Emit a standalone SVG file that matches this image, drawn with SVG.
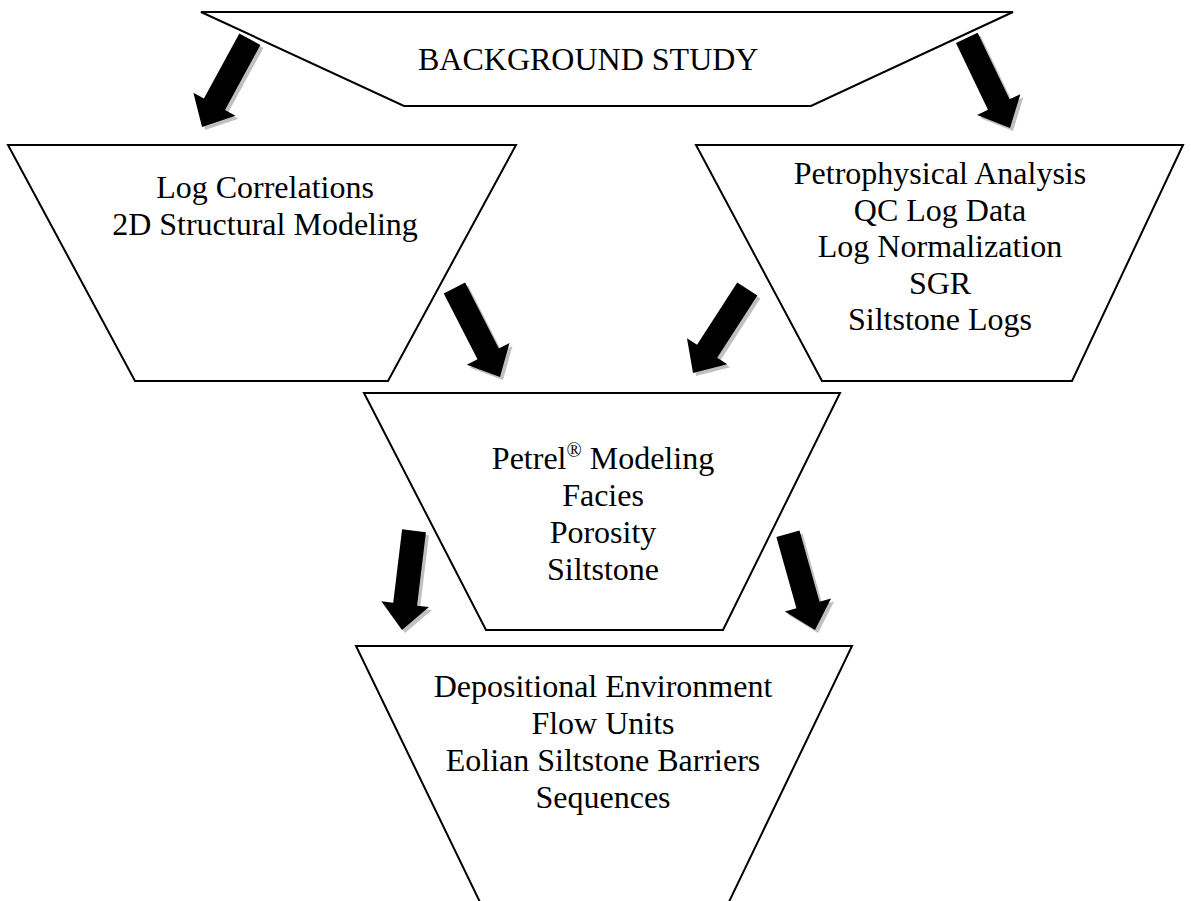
<svg xmlns="http://www.w3.org/2000/svg" width="1191" height="901" viewBox="0 0 1191 901">
<style>
.shape{fill:#fff;stroke:#000;stroke-width:2;stroke-linejoin:miter}
.t{font-family:"Liberation Serif","Times New Roman",serif;font-size:32px;fill:#000;text-anchor:middle}
.arr{fill:#000}
.sh{fill:#c0c0c0}
</style>
<defs>
<path id="a" d="M0,0 L-26,-24 L-26,-12 L-100,-12 L-100,12 L-26,12 L-26,24 Z"/>
</defs>
<rect width="1191" height="901" fill="#fff"/>
<g id="connectors">
<use href="#a" class="sh" transform="translate(205,130) rotate(118.6)"/>
<use href="#a" class="arr" transform="translate(202,127) rotate(118.6)"/>
<use href="#a" class="sh" transform="translate(1013,131) rotate(64.4)"/>
<use href="#a" class="arr" transform="translate(1010,128) rotate(64.4)"/>
<use href="#a" class="sh" transform="translate(503,380) rotate(62.9)"/>
<use href="#a" class="arr" transform="translate(500,377) rotate(62.9)"/>
<use href="#a" class="sh" transform="translate(696,376) rotate(122.9)"/>
<use href="#a" class="arr" transform="translate(693,373) rotate(122.9)"/>
<use href="#a" class="sh" transform="translate(405,633) rotate(96.9)"/>
<use href="#a" class="arr" transform="translate(402,630) rotate(96.9)"/>
<use href="#a" class="sh" transform="translate(818,633) rotate(74.3)"/>
<use href="#a" class="arr" transform="translate(815,630) rotate(74.3)"/>
</g>
<g id="background">
<polygon class="shape" points="201,12 1013,12 811,106 404,106"/>
<text class="t" x="418" y="70" style="text-anchor:start">BACKGROUND STUDY</text>
</g>
<g id="log-correlations">
<polygon class="shape" points="8,145 516,145 388,381 135,381"/>
<text class="t" x="265" y="198">Log Correlations</text>
<text class="t" x="265" y="235">2D Structural Modeling</text>
</g>
<g id="petrophysical">
<polygon class="shape" points="696,145 1183,145 1072,381 822,381"/>
<text class="t" x="940" y="184">Petrophysical Analysis</text>
<text class="t" x="940" y="220.5">QC Log Data</text>
<text class="t" x="940" y="257">Log Normalization</text>
<text class="t" x="940" y="293.5">SGR</text>
<text class="t" x="940" y="330">Siltstone Logs</text>
</g>
<g id="petrel">
<polygon class="shape" points="364,393 840,393 723,630 486,630"/>
<text class="t" x="603" y="469">Petrel<tspan font-size="20" dy="-12">®</tspan><tspan dy="12"> Modeling</tspan></text>
<text class="t" x="603" y="506">Facies</text>
<text class="t" x="603" y="543">Porosity</text>
<text class="t" x="603" y="580">Siltstone</text>
</g>
<g id="depositional">
<polygon class="shape" points="356,646 852,646 701,960 508,960"/>
<text class="t" x="603" y="697">Depositional Environment</text>
<text class="t" x="603" y="734">Flow Units</text>
<text class="t" x="603" y="771">Eolian Siltstone Barriers</text>
<text class="t" x="603" y="808">Sequences</text>
</g>
</svg>
